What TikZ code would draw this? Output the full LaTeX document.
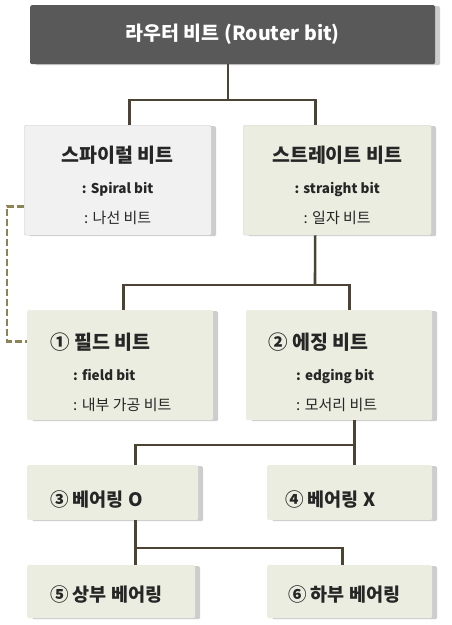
\documentclass[tikz,border=0pt]{standalone}
\usepackage{fontspec}
\setmainfont{Noto Sans CJK KR}
\usetikzlibrary{shadows}
\definecolor{routergray}{HTML}{595959}
\definecolor{linkbrown}{HTML}{4B4434}
\definecolor{dasholive}{HTML}{8A8458}
\definecolor{spiralfill}{HTML}{F1F1F1}
\definecolor{bitfill}{HTML}{EAEDDF}
\definecolor{shadegray}{HTML}{CDCDCD}
\newcommand{\engsub}[1]{{\bfseries\fontsize{13.5}{16}\selectfont #1}}
\newcommand{\korsub}[1]{{\mdseries\fontsize{15}{16}\selectfont #1}}
\newcommand{\lift}[1]{\rule{0pt}{#1}}

\begin{document}
\begin{tikzpicture}[x=1pt, y=-1pt,
        link/.style={draw=linkbrown, line width=2.6pt},
        dashlink/.style={draw=dasholive, line width=2.6pt, dash pattern=on 7pt off 3pt}]
      \tikzstyle{box} = [rectangle, anchor=north west, rounded corners=1.5pt, text=black!85,
        font=\bfseries\fontsize{19.5}{24}\selectfont,
        drop shadow={shadow xshift=5pt, shadow yshift=-1pt, fill=shadegray, opacity=1}]
      \tikzstyle{small} = [font=\bfseries\fontsize{18.5}{20}\selectfont]
      \useasboundingbox[fill=white] (0,0) rectangle (451,625);
      \node (router) [box, fill=routergray, text=white, minimum width=405pt, minimum height=59pt,
        font=\bfseries\fontsize{19.5}{22}\selectfont] at (30,5) {라우터 비트 (Router bit)};
      \node (spiral) [box, fill=spiralfill, draw=black!18, minimum width=187pt, minimum height=110pt,
        align=center] at (24,125)
        {\lift{27pt}스파이럴 비트\\[7pt] \engsub{: Spiral bit}\\[6pt] \korsub{: 나선 비트}};
      \node (straight) [box, fill=bitfill, draw=black!15, minimum width=188pt, minimum height=110pt,
        align=center] at (243,125)
        {\lift{27pt}스트레이트 비트\\[7pt] \engsub{: straight bit}\\[6pt] \korsub{: 일자 비트}};
      \node (field) [box, fill=bitfill, minimum height=110pt, inner xsep=23pt, text width=140pt,
        align=flush left] at (27,310)
        {\lift{31pt}① 필드 비트\\[7pt] \hspace*{23pt}\engsub{: field bit}\\[6pt]
         \hspace*{23pt}\korsub{: 내부 가공 비트}};
      \node (edging) [box, fill=bitfill, minimum height=110pt, inner xsep=22pt, text width=142pt,
        align=flush left] at (246,310)
        {\lift{31pt}② 에징 비트\\[7pt] \hspace*{28pt}\engsub{: edging bit}\\[6pt]
         \hspace*{28pt}\korsub{: 모서리 비트}};
      \node (bearO) [box, small, fill=bitfill, minimum height=55pt, inner xsep=23pt, text width=125pt,
        align=flush left] at (27,465) {\lift{29pt}③ 베어링 O};
      \node (bearX) [box, small, fill=bitfill, minimum height=55pt, inner xsep=18pt, text width=129pt,
        align=flush left] at (267,465) {\lift{29pt}④ 베어링 X};
      \node (upper) [box, small, fill=bitfill, minimum height=53pt, inner xsep=23pt, text width=122pt,
        align=flush left] at (27,565) {\lift{22pt}⑤ 상부 베어링};
      \node (lower) [box, small, fill=bitfill, minimum height=53pt, inner xsep=21pt, text width=123pt,
        align=flush left] at (267,565) {\lift{22pt}⑥ 하부 베어링};
      \coordinate (j1) at (228,100);
      \coordinate (j2) at (315,285);
      \coordinate (j3) at (354,445);
      \coordinate (j4) at (135,548);
      \draw[link] (j1 |- router.south) -- (j1);
      \draw[link] ([xshift=11.5pt]spiral.north) |- (j1) -| ([xshift=-22pt]straight.north);
      \draw[link] ([xshift=-22pt]straight.south) -- (j2);
      \draw[link] ([xshift=3pt]field.north) |- (j2) -| ([xshift=10pt]edging.north);
      \draw[link] ([xshift=15pt]edging.south) -- ([xshift=4.5pt]bearX.north);
      \draw[link] ([xshift=22.5pt]bearO.north) |- (j3);
      \draw[link] ([xshift=22.5pt]bearO.south) -- ([xshift=24pt]upper.north);
      \draw[link] (j4) -| ([xshift=-7.5pt]lower.north);
      \draw[dashlink] ([yshift=-26pt]spiral.west) -- ++(-17,0) |- ([yshift=24pt]field.west);
\end{tikzpicture}
\end{document}
